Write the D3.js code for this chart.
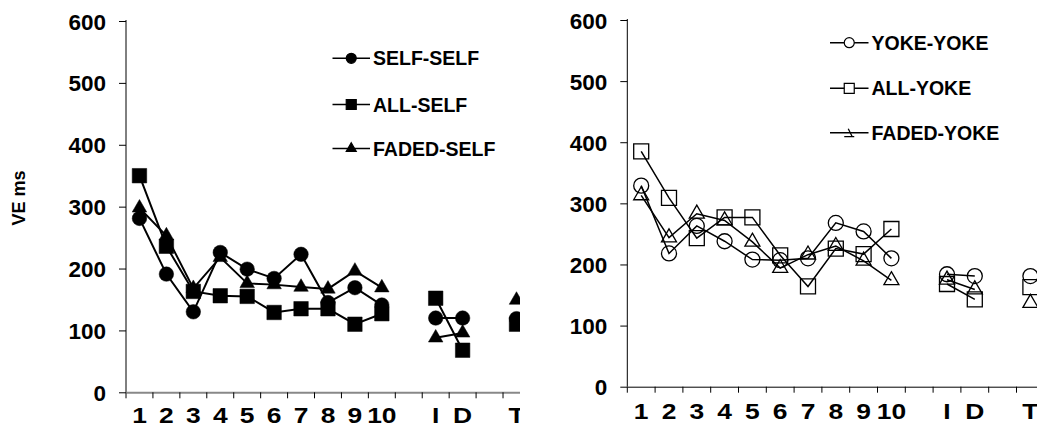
<!DOCTYPE html>
<html>
<head>
<meta charset="utf-8">
<script src="https://d3js.org/d3.v7.min.js"></script>
<style>
  body { margin: 0; background: #fff; }
  text { font-family: Arial, "Liberation Sans", sans-serif; font-weight: bold; fill: #000; }
</style>
</head>
<body>
<svg id="chart" width="1037" height="428"></svg>
<script>
// categories along the x axis (two blank slots before I and before T)
var categories = ["1","2","3","4","5","6","7","8","9","10","gapA","I","D","gapB","T"];
var yTicks = [0, 100, 200, 300, 400, 500, 600];

// left panel: self-controlled groups
var selfSelf  = [281, 191, 130, 226, 199, 184, 223, 145, 169, 141, null, 120, 120, null, 119];
var allSelf   = [350, 236, 163, 156, 155, 129, 135, 135, 110, 127, null, 152, 68, null, 110];
var fadedSelf = [298, 253, 168, 218, 176, 174, 170, 167, 196, 169, null, 88, 96, null, 149];

// right panel: yoked groups
var yokeYoke  = [329, 218, 263, 238, 208, 207, 210, 268, 254, 210, null, 184, 181, null, 181];
var allYoke   = [385, 309, 243, 277, 277, 215, 164, 226, 217, 258, null, 168, 143, null, 163];
var fadedYoke = [313, 244, 283, 272, 237, 194, 216, 230, 206, 174, null, 175, 159, null, 137];

var svg = d3.select("#chart");

svg.append("clipPath").attr("id", "leftClip")
  .append("rect").attr("x", 0).attr("y", 0).attr("width", 520).attr("height", 428);

function symbolPath(shape, s) {
  if (shape == "circle") return d3.symbol().type(d3.symbolCircle).size(Math.PI * s * s / 4)();
  if (shape == "square") return d3.symbol().type(d3.symbolSquare).size(s * s)();
  return d3.symbol().type(d3.symbolTriangle).size(s * s * 0.433)();
}

function drawPanel(g, opts) {
  var x = d3.scaleBand().domain(categories).range([opts.x0, opts.x0 + opts.step * categories.length]);
  var y = d3.scaleLinear().domain([0, 600]).range([opts.yBottom, opts.yTop]);

  // y axis
  var ya = g.append("g")
    .attr("transform", "translate(" + opts.x0 + ",0)")
    .call(d3.axisLeft(y).tickValues(yTicks).tickSize(7).tickSizeOuter(0).tickPadding(13));
  ya.selectAll("text").style("font-size", "22.5px").attr("dy", "0.36em");
  ya.selectAll("line").attr("stroke", "#000");
  ya.select(".domain").attr("stroke", "#000").attr("d", "M0," + opts.yBottom + "V" + (opts.yTop - 1));

  // x axis labels (drawn a little wider, like the original)
  var xa = g.append("g")
    .attr("transform", "translate(0," + opts.yBottom + ")")
    .call(d3.axisBottom(x).tickSize(0).tickPadding(opts.labelPad)
      .tickFormat(function(d) { return d.indexOf("gap") == 0 ? "" : d; }));
  xa.selectAll("text").style("font-size", "22px").attr("transform", "scale(1.2,1)");
  xa.select(".domain").attr("stroke", opts.xAxisColor).attr("stroke-width", opts.xAxisWidth);

  // x tick marks at category boundaries
  var bounds = categories.map(function(c) { return x(c); }).concat([x.range()[1]]);
  g.append("g").selectAll("line").data(bounds).enter().append("line")
    .attr("x1", function(d) { return d; })
    .attr("x2", function(d) { return d; })
    .attr("y1", opts.yBottom)
    .attr("y2", opts.yBottom + 6)
    .attr("stroke", "#000");

  var cx = function(i) { return x(categories[i]) + x.bandwidth() / 2; };

  opts.series.forEach(function(s) {
    var line = d3.line()
      .defined(function(d) { return d != null; })
      .x(function(d, i) { return cx(i); })
      .y(function(d) { return y(d); });

    var marks = g.append("g");
    var drawLine = function() {
      marks.append("path").datum(s.values)
        .attr("d", line)
        .attr("fill", "none")
        .attr("stroke", "#000")
        .attr("stroke-width", opts.lineWidth);
    };
    if (!opts.filled) drawLine();
    marks.selectAll(".pt").data(s.values.map(function(v, i) { return {v: v, i: i}; })
        .filter(function(d) { return d.v != null; }))
      .enter().append("path")
      .attr("transform", function(d) { return "translate(" + cx(d.i) + "," + y(d.v) + ")"; })
      .attr("d", symbolPath(s.shape, opts.markSize))
      .attr("fill", opts.filled ? "#000" : "none")
      .attr("stroke", "#000")
      .attr("stroke-width", opts.filled ? 0.5 : 1.3);
    if (opts.filled) drawLine();
  });

  // legend
  var lg = g.append("g");
  opts.series.forEach(function(s, k) {
    var ly = opts.legend.rows[k];
    lg.append("line")
      .attr("x1", opts.legend.x1).attr("x2", opts.legend.x2)
      .attr("y1", ly).attr("y2", ly)
      .attr("stroke", "#000").attr("stroke-width", 1.5);
    var mx = (opts.legend.x1 + opts.legend.x2) / 2;
    if (s.legendGlyph == "half") {
      lg.append("path")
        .attr("d", "M" + (mx - 5) + "," + (ly + 4) + "H" + (mx + 5) + "M" + (mx - 1) + "," + (ly - 4) + "L" + (mx + 3) + "," + (ly + 4))
        .attr("fill", "none").attr("stroke", "#000").attr("stroke-width", 1.3);
    } else {
      lg.append("path")
        .attr("transform", "translate(" + mx + "," + ly + ")")
        .attr("d", symbolPath(s.shape, 10))
        .attr("fill", opts.filled ? "#000" : "#fff")
        .attr("stroke", "#000")
        .attr("stroke-width", 1.2);
    }
    lg.append("text")
      .attr("x", opts.legend.x2 + 3)
      .attr("y", ly)
      .attr("dy", "0.36em")
      .style("font-size", "19.5px")
      .text(s.name);
  });
}

var left = svg.append("g").attr("clip-path", "url(#leftClip)");
drawPanel(left, {
  x0: 126, step: 26.93, yBottom: 392.3, yTop: 21, labelPad: 15,
  filled: true, markSize: 14.5, lineWidth: 2,
  xAxisColor: "#888", xAxisWidth: 2,
  series: [
    {name: "SELF-SELF", values: selfSelf, shape: "circle"},
    {name: "ALL-SELF", values: allSelf, shape: "square"},
    {name: "FADED-SELF", values: fadedSelf, shape: "triangle"}
  ],
  legend: {x1: 332.5, x2: 370, rows: [58.3, 104.5, 148.5]}
});

// y axis title for left panel
left.append("text")
  .attr("transform", "translate(25,198) rotate(-90)")
  .attr("text-anchor", "middle")
  .style("font-size", "18px")
  .text("VE ms");

var right = svg.append("g");
drawPanel(right, {
  x0: 627.3, step: 27.8, yBottom: 386.7, yTop: 20, labelPad: 17,
  filled: false, markSize: 15, lineWidth: 1.5,
  xAxisColor: "#000", xAxisWidth: 1,
  series: [
    {name: "YOKE-YOKE", values: yokeYoke, shape: "circle"},
    {name: "ALL-YOKE", values: allYoke, shape: "square"},
    {name: "FADED-YOKE", values: fadedYoke, shape: "triangle", legendGlyph: "half"}
  ],
  legend: {x1: 830, x2: 868.5, rows: [42.7, 88.3, 132.7]}
});
</script>
</body>
</html>
